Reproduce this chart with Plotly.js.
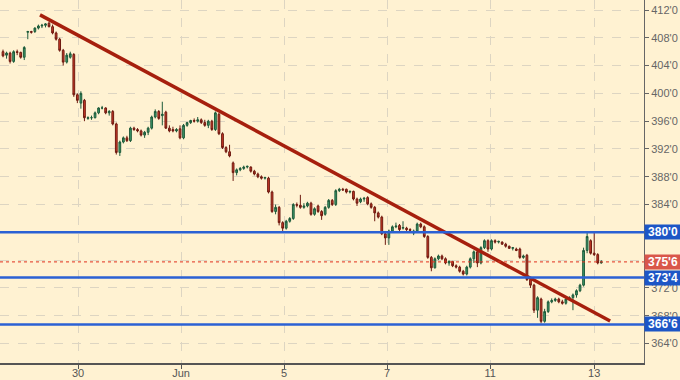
<!DOCTYPE html>
<html>
<head>
<meta charset="utf-8">
<script src="https://cdn.plot.ly/plotly-3.0.1.min.js"></script>
<style>html,body{margin:0;padding:0;background:#fff2d2;}#chart{width:680px;height:380px;}</style>
</head>
<body>
<div id="chart"></div>
<script>
// Hourly OHLC bars (cents/bushel)
var openP = [
406.0,405.5,405.8,404.6,406.0,405.9,405.2,408.8,408.9,408.9,
409.4,409.7,409.8,410.1,409.6,408.7,407.8,406.2,404.5,405.2,
405.6,399.8,398.6,399.0,396.4,396.5,396.5,397.2,397.9,397.9,
397.2,397.4,395.6,391.5,393.0,393.6,393.2,395.0,394.8,394.6,
394.0,394.4,395.0,396.6,397.4,396.8,397.3,395.0,394.8,394.6,
394.9,393.6,395.4,395.8,396.1,396.0,396.2,395.8,395.4,396.0,
394.8,397.0,394.2,392.2,391.6,390.0,388.6,389.0,389.2,389.4,
389.4,388.8,388.4,388.0,387.8,387.8,385.8,383.0,383.6,381.4,
380.6,381.6,382.0,384.0,383.9,383.6,383.8,384.2,382.6,383.8,
383.0,382.6,383.6,384.6,384.0,386.0,386.2,386.2,385.8,385.9,
384.8,384.4,384.8,385.0,384.1,383.6,382.8,382.2,379.8,379.2,
380.2,380.8,381.0,380.6,380.6,380.4,379.9,380.2,381.2,380.8,
379.4,376.4,374.9,376.2,376.6,376.2,375.6,375.8,375.2,375.0,
374.4,374.0,375.0,376.2,377.2,375.6,377.8,378.8,377.6,378.8,
378.6,378.6,378.3,378.0,377.7,377.6,377.6,376.4,376.7,373.2,
372.4,368.8,370.4,367.2,368.6,370.0,370.2,370.4,370.0,369.8,
370.4,370.6,371.0,371.6,372.4,377.4,378.8,377.0,376.8,375.6
];
var highP = [
406.3,406.0,406.0,406.2,406.3,406.0,406.8,409.0,409.0,409.5,
409.9,410.0,410.1,410.3,409.9,408.9,408.0,406.4,405.8,406.0,
405.8,400.0,400.3,399.2,396.7,396.8,397.4,398.0,398.2,398.0,
397.6,397.6,395.8,393.2,393.8,393.9,395.2,395.2,395.0,394.8,
394.6,395.2,396.8,397.7,397.6,398.8,397.5,395.4,395.2,395.0,
395.4,395.6,395.9,396.2,396.4,396.6,396.4,396.2,396.2,396.2,
397.4,397.2,394.4,392.4,392.6,390.2,389.2,389.4,389.6,389.6,
389.5,389.0,388.6,388.2,388.0,388.0,386.0,384.0,383.8,381.6,
381.8,382.2,384.2,384.3,385.4,384.2,384.4,384.4,383.6,384.0,
383.2,383.8,384.8,384.8,386.2,386.4,386.4,386.3,386.0,386.0,
385.0,385.0,385.1,385.2,384.3,383.8,383.0,382.4,380.2,380.4,
381.0,381.4,381.2,381.6,380.8,380.6,380.4,381.4,381.4,381.0,
379.6,376.6,376.4,376.8,376.8,376.4,376.0,375.9,375.4,375.2,
374.6,375.2,376.4,377.4,377.6,378.0,379.0,379.0,379.0,379.0,
378.8,378.7,378.5,378.1,377.9,377.8,377.8,376.8,376.9,373.4,
372.6,370.8,370.6,369.0,370.2,370.5,370.6,370.6,370.3,370.5,
370.8,371.2,371.8,372.6,377.8,379.9,379.0,380.0,377.0,376.0
];
var lowP = [
405.2,405.0,404.3,404.4,405.5,405.0,404.8,407.8,408.6,408.7,
409.2,409.4,409.5,409.5,408.5,407.6,406.0,404.0,404.3,405.0,
399.5,398.6,397.8,396.0,396.2,396.2,396.4,397.0,397.7,397.0,
396.8,395.4,391.2,391.0,392.8,393.0,393.0,394.6,394.4,393.8,
393.6,394.0,394.8,396.4,396.2,395.4,394.9,394.4,394.4,394.4,
393.4,393.4,395.2,395.6,395.8,395.8,395.6,395.2,395.0,394.6,
394.6,394.0,392.0,391.4,390.8,387.4,388.2,388.8,389.0,389.2,
388.6,388.2,387.8,387.6,387.6,385.6,382.8,382.6,381.0,380.2,
380.4,381.4,381.8,383.6,383.4,383.4,383.6,382.4,382.4,382.8,
381.8,382.4,383.4,383.8,383.8,385.8,386.0,385.6,385.6,384.6,
383.8,384.2,384.4,383.9,383.4,381.6,382.0,379.6,378.2,378.2,
380.0,380.6,380.2,380.4,380.2,380.2,379.6,380.0,380.6,379.2,
376.2,374.4,374.8,376.0,376.0,375.4,375.2,375.0,374.8,374.2,
373.8,373.8,374.8,375.6,375.0,375.4,377.6,377.2,377.4,378.4,
378.4,378.2,377.8,377.6,377.4,377.3,376.2,376.2,373.0,372.0,
368.4,367.7,366.9,367.0,368.4,369.8,370.0,369.8,369.6,369.6,
370.2,368.8,370.6,371.4,372.2,377.0,376.8,376.6,375.4,375.5
];
var closeP = [
405.4,405.8,404.6,406.0,405.9,405.2,406.6,408.9,408.8,409.4,
409.7,409.8,410.0,409.6,408.7,407.8,406.2,404.5,405.5,405.7,
399.8,399.0,400.0,396.5,396.5,396.5,397.2,397.9,397.9,397.2,
397.4,395.6,391.5,393.0,393.6,393.2,395.0,394.8,394.6,394.0,
394.4,395.0,396.6,397.4,396.4,397.0,395.0,394.6,394.6,394.8,
393.6,395.4,395.8,396.1,396.0,396.2,395.8,395.4,396.0,394.8,
397.2,394.2,392.2,391.6,391.0,388.6,389.0,389.2,389.4,389.5,
388.8,388.4,388.0,387.8,387.9,385.8,383.0,383.6,381.4,380.6,
381.6,382.0,384.0,383.9,383.6,383.8,384.2,382.6,383.4,383.0,
382.4,383.6,384.6,384.0,386.0,386.2,386.1,385.8,385.9,384.8,
384.2,384.8,384.9,384.1,383.6,382.8,382.2,379.8,379.2,380.2,
380.8,380.9,380.4,380.7,380.4,380.3,380.2,381.2,380.8,379.4,
376.4,374.9,376.2,376.6,376.2,375.6,375.8,375.2,375.0,374.4,
374.0,375.0,376.2,377.2,375.6,377.8,378.8,377.6,378.8,378.6,
378.7,378.3,378.0,377.7,377.8,377.4,376.4,376.6,373.2,372.4,
368.8,370.6,367.2,368.6,370.0,370.2,370.4,370.0,369.8,370.4,
370.6,371.0,371.6,372.4,377.4,379.4,377.0,376.8,375.6,375.75
];

// Axis ticks
var xTickVals = [21.2, 50.3, 79.4, 108.5, 137.6, 167.0];
var xTickText = ["30", "Jun", "5", "7", "11", "13"];
var yTickVals = [364, 368, 372, 376, 380, 384, 388, 392, 396, 400, 404, 408, 412];
var yTickHidden = [376, 380]; // covered by the price boxes in the reference

// Drawn levels
var supportLevels = [380.0, 373.5, 366.75];
var lastPrice = 375.75;
var trendX = [10.45, 171.5];
var trendY = [411.3, 367.25];

function fmt(v) {
  var w = Math.floor(v + 1e-9);
  var e = Math.round((v - w) * 8);
  return w + "'" + e;
}

var idx = openP.map(function (_, i) { return i; });

var candles = {
  type: 'candlestick',
  x: idx, open: openP, high: highP, low: lowP, close: closeP,
  increasing: { line: { color: '#1d5a3a', width: 1 }, fillcolor: '#3f9b6c' },
  decreasing: { line: { color: '#6e1a10', width: 1 }, fillcolor: '#cf3b28' },
  whiskerwidth: 0,
  hoverinfo: 'skip',
  showlegend: false
};

var trend = {
  type: 'scatter', mode: 'lines',
  x: trendX, y: trendY,
  line: { color: '#a61f0d', width: 3.5 },
  hoverinfo: 'skip', showlegend: false
};

var shapes = supportLevels.map(function (v) {
  return { type: 'line', xref: 'paper', x0: 0, x1: 1, yref: 'y', y0: v, y1: v,
           line: { color: '#2b61d4', width: 2.5 }, layer: 'above' };
});
shapes.push({ type: 'line', xref: 'paper', x0: 0, x1: 1, yref: 'y', y0: lastPrice, y1: lastPrice,
              line: { color: '#e0301e', width: 1, dash: 'dot' }, layer: 'above' });

var annotations = supportLevels.map(function (v) {
  return { xref: 'paper', x: 1, xanchor: 'left', yref: 'y', y: v, yanchor: 'middle',
           text: '<b>' + fmt(v) + '</b>', showarrow: false,
           bgcolor: '#1d56c6', width: 34, height: 12, borderpad: 1,
           font: { family: 'Arial, Liberation Sans, sans-serif', size: 12, color: '#ffffff' } };
});
annotations.push({ xref: 'paper', x: 1, xanchor: 'left', yref: 'y', y: lastPrice, yanchor: 'middle',
           text: '<b>' + fmt(lastPrice) + '</b>', showarrow: false,
           bgcolor: '#d9574a', width: 34, height: 12, borderpad: 1,
           font: { family: 'Arial, Liberation Sans, sans-serif', size: 12, color: '#ffffff' } });

var layout = {
  width: 680, height: 380,
  margin: { l: 0, r: 36, t: 0, b: 17 },
  paper_bgcolor: '#fff2d2', plot_bgcolor: '#fff2d2',
  font: { family: 'Arial, Liberation Sans, sans-serif', size: 11, color: '#555' },
  xaxis: {
    range: [-0.85, 181.07], tickvals: xTickVals, ticktext: xTickText,
    ticks: 'outside', ticklen: 4, tickcolor: '#555',
    ticklabelstandoff: -5,
    showline: true, linecolor: '#555', linewidth: 2,
    showgrid: true, gridcolor: '#ddd5c2', griddash: 'dash', zeroline: false,
    rangeslider: { visible: false },
    tickfont: { size: 11, color: '#555' }
  },
  yaxis: {
    side: 'right', range: [361.2, 413.44],
    tickvals: yTickVals,
    ticktext: yTickVals.map(function (v) { return yTickHidden.indexOf(v) >= 0 ? '' : fmt(v); }),
    ticks: 'outside', ticklen: 4, tickcolor: '#666',
    showline: true, linecolor: '#666', linewidth: 1,
    showgrid: true, gridcolor: '#ddd5c2', griddash: 'dash', zeroline: false,
    tickfont: { size: 11, color: '#666' }
  },
  shapes: shapes,
  annotations: annotations,
  showlegend: false
};

Plotly.newPlot('chart', [candles, trend], layout, { staticPlot: true, displayModeBar: false });
</script>
</body>
</html>
